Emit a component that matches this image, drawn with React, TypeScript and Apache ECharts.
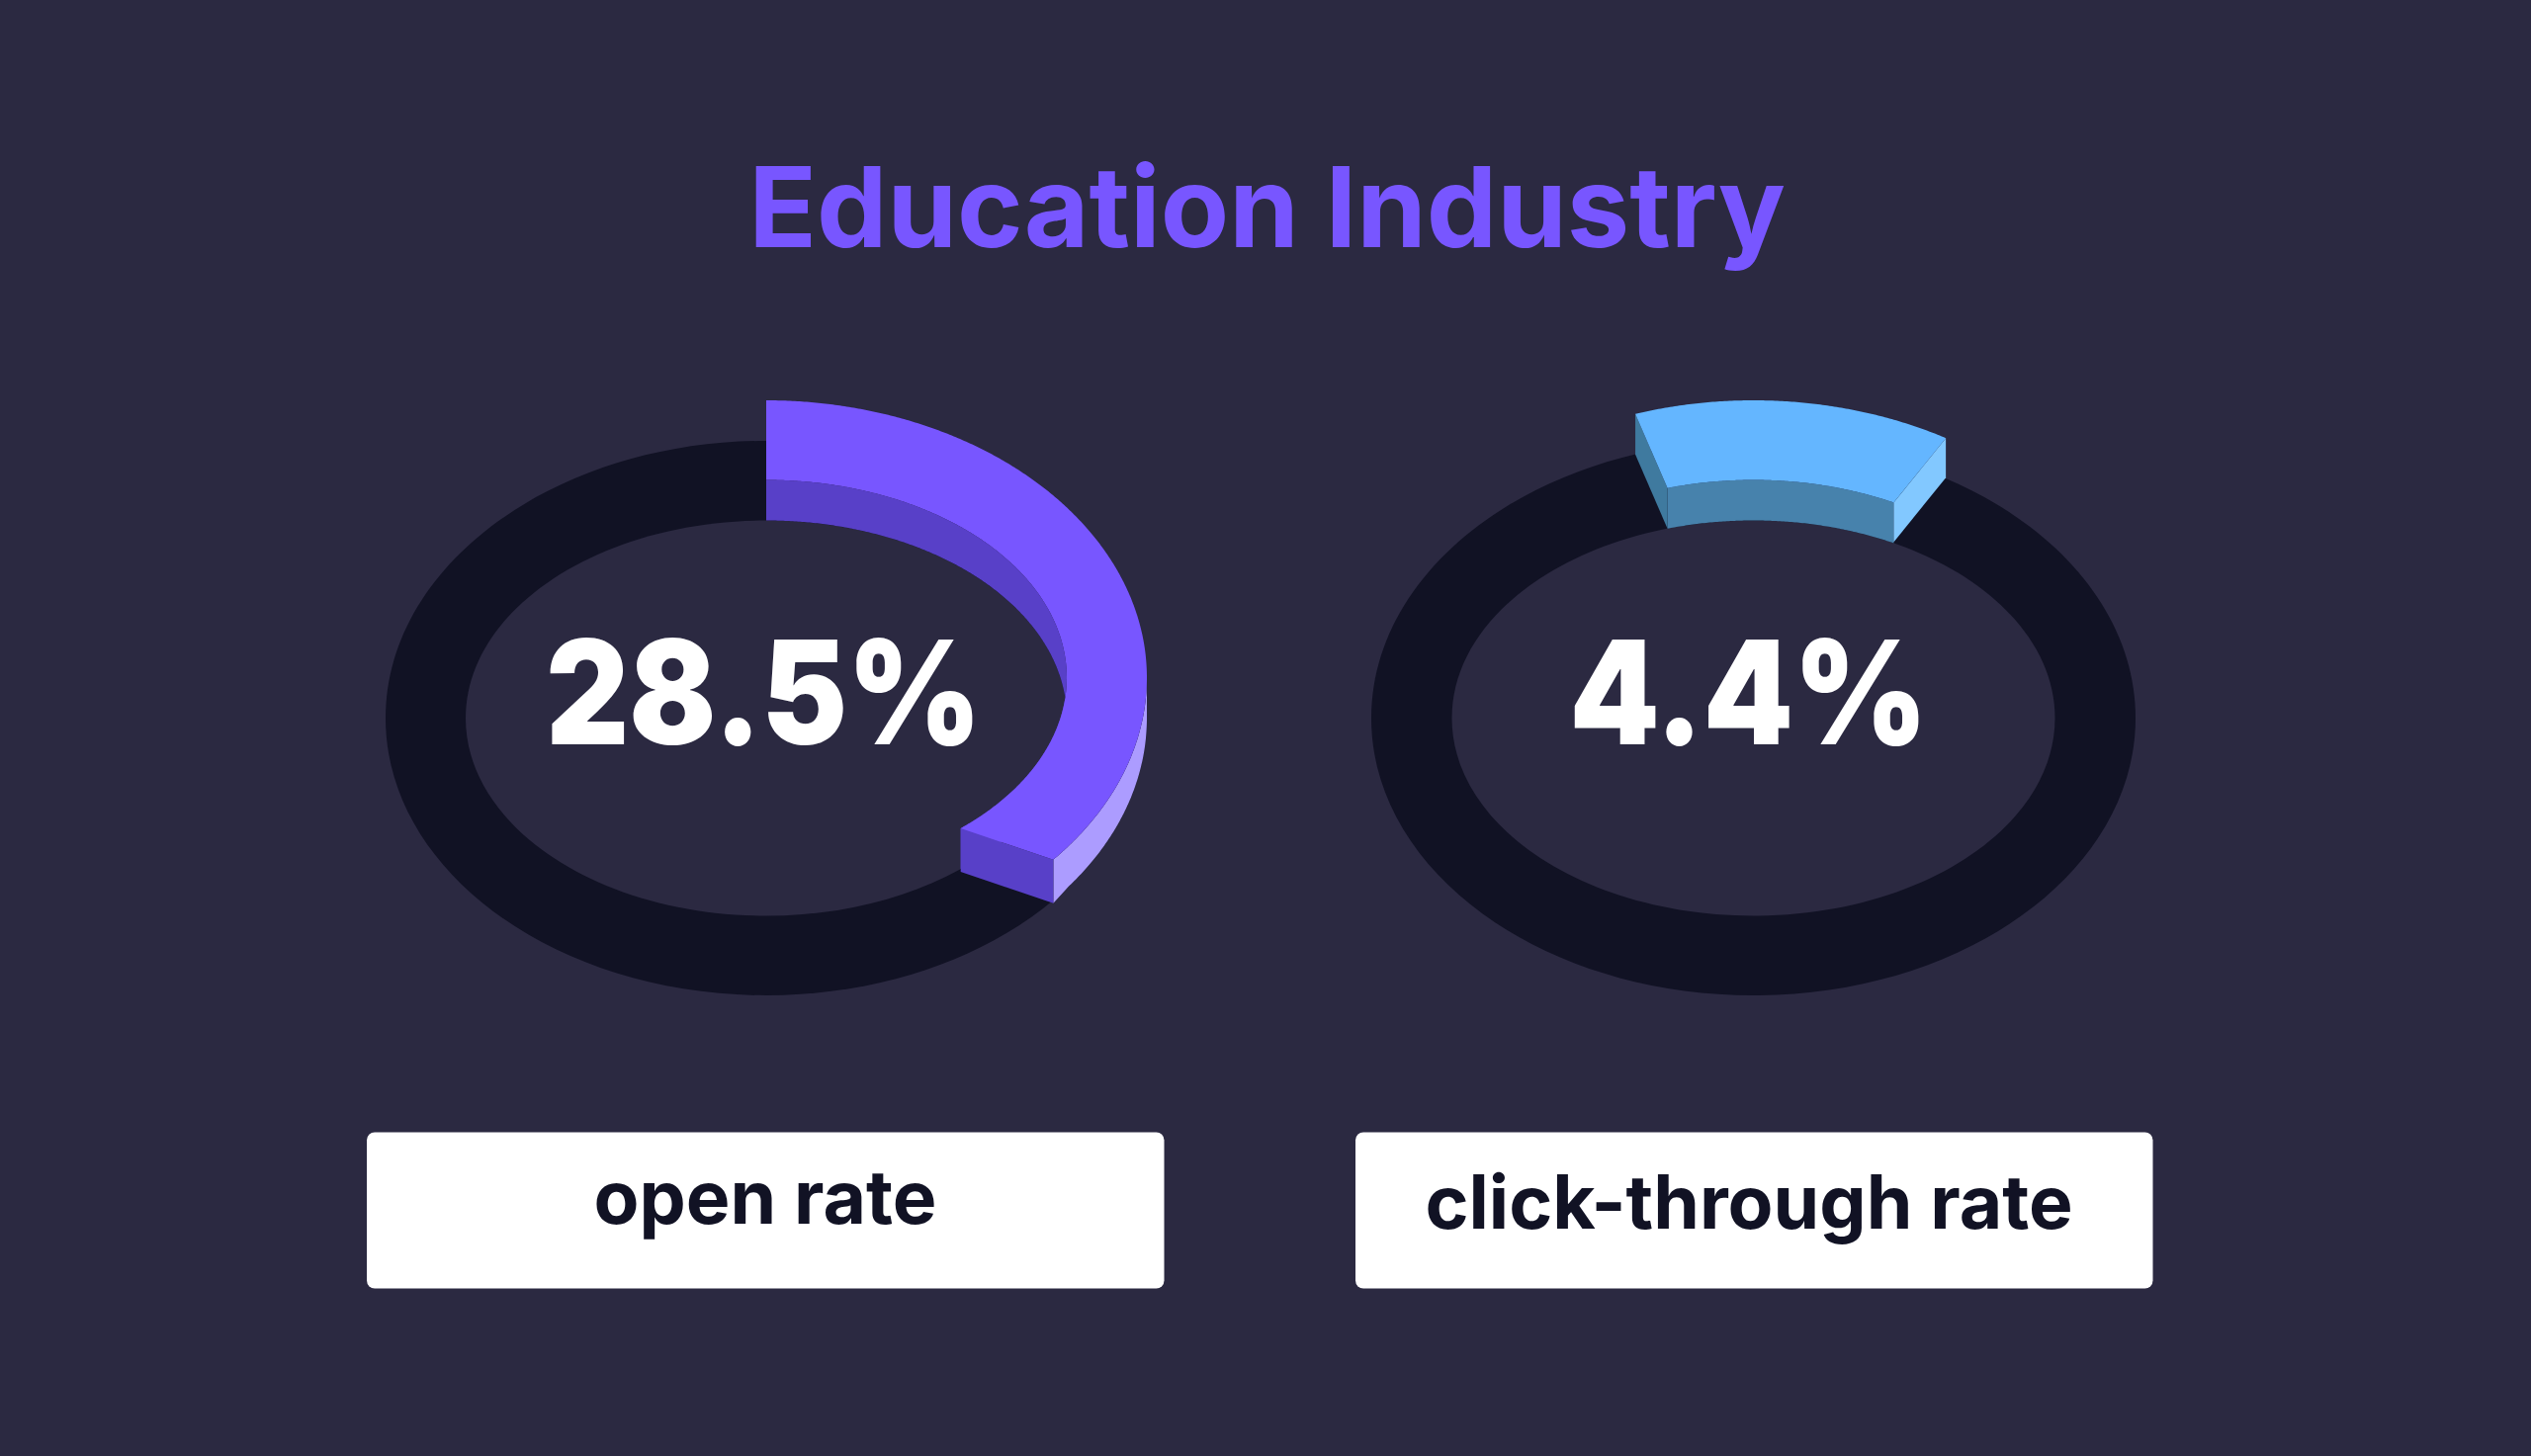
import React, { useEffect, useRef } from "react";
import * as echarts from "echarts";

const chartTitle = "Education Industry";
const metrics = ["open rate", "click-through rate"];
const rateValues = [28.5, 4.4];
// Arc extents, in percent of a full ring clockwise from 12 o'clock.
const arcOuterStart = [0, -5.0];
const arcOuterEnd = [36.4, 8.4];
const arcInnerStart = [0, -4.6];
const arcInnerEnd = [38.8, 7.7];

const topColors = ["#7856FF", "#64B6FF"];
const innerWallColors = ["#5840C8", "#4782AC"];
const outerWallColors = ["#AC9CFF", ""];
const startFaceColors = ["", "#3F7A9F"];
const endFaceColors = ["#5840C8", "#82C8FF"];

const BG = "#2B2941";
const TRACK = "#111224";
const RX_OUT = [385, 386.5];
const RY_OUT = 280.5;
const RX_IN = [304, 305];
const RY_IN = 200;
const LIFT = 41;
const END_DROP = [3, -1];

function pt(cx: number, cy: number, rx: number, ry: number, pct: number) {
  const a = (pct * 3.6 * Math.PI) / 180;
  return [cx + rx * Math.sin(a), cy - ry * Math.cos(a)];
}
function arc(cx: number, cy: number, rx: number, ry: number, a: number, b: number) {
  const n = Math.max(2, Math.ceil(Math.abs(b - a) * 10));
  const out: number[][] = [];
  for (let i = 0; i <= n; i++) out.push(pt(cx, cy, rx, ry, a + ((b - a) * i) / n));
  return out;
}
function poly(points: number[][], fill: string) {
  return { type: "polygon", shape: { points }, style: { fill }, silent: true };
}

function renderRing(params: any, api: any) {
  const i = params.dataIndex;
  const [cx, cy] = api.coord([i, 0.5]);
  const ty = cy - LIFT;
  const ro = RX_OUT[i], ri = RX_IN[i];
  const oS = arcOuterStart[i], oE = arcOuterEnd[i], iS = arcInnerStart[i], iE = arcInnerEnd[i];
  const baseEndOuter = pt(cx, cy + END_DROP[i], ro, RY_OUT, oE);
  const baseEndInner = pt(cx, cy + END_DROP[i], ri, RY_IN, iE);
  const children: any[] = [
    { type: "ellipse", shape: { cx, cy, rx: ro, ry: RY_OUT }, style: { fill: TRACK } },
    { type: "ellipse", shape: { cx, cy, rx: ri, ry: RY_IN }, style: { fill: BG } },
  ];
  if (outerWallColors[i]) {
    const s = Math.max(25, oS);
    children.push(
      poly([...arc(cx, ty, ro, RY_OUT, s, oE), baseEndOuter, ...arc(cx, cy, ro, RY_OUT, oE - 1, s)], outerWallColors[i])
    );
  }
  children.push(poly([...arc(cx, ty, ri, RY_IN, iS, iE), ...arc(cx, cy, ri, RY_IN, iE, iS)], innerWallColors[i]));
  if (startFaceColors[i]) {
    children.push(
      poly(
        [pt(cx, ty, ro, RY_OUT, oS), pt(cx, cy, ro, RY_OUT, oS), pt(cx, cy, ri, RY_IN, iS), pt(cx, ty, ri, RY_IN, iS)],
        startFaceColors[i]
      )
    );
  }
  children.push(
    poly([pt(cx, ty, ro, RY_OUT, oE), baseEndOuter, baseEndInner, pt(cx, ty, ri, RY_IN, iE)], endFaceColors[i])
  );
  children.push(poly([...arc(cx, ty, ro, RY_OUT, oS, oE), ...arc(cx, ty, ri, RY_IN, iE, iS)], topColors[i]));
  return { type: "group", children };
}

export default function App() {
  const ref = useRef<HTMLDivElement>(null);
  useEffect(() => {
    document.body.style.margin = "0";
    document.body.style.background = BG;
    const chart = echarts.init(ref.current!, undefined, { renderer: "svg" });
    const font = "Inter, 'Noto Sans', sans-serif";
    const valueCenter = [772.5, 1768.5];
    const labelCenter = [774, 1769];
    const labelY = [1248, 1253];
    const boxX = [371, 1371];
    chart.setOption({
      animation: false,
      backgroundColor: BG,
      grid: { left: 275.75, width: 1997, top: 0, height: 1453 },
      xAxis: { type: "category", data: metrics, show: false },
      yAxis: { type: "value", min: 0, max: 1, show: false },
      series: [
        {
          type: "custom",
          coordinateSystem: "cartesian2d",
          renderItem: renderRing,
          encode: { x: 0, y: 1 },
          clip: false,
          silent: true,
          data: rateValues.map((v, i) => [i, 0.5, v]),
        },
      ],
      graphic: [
        {
          type: "text",
          z: 10,
          x: 1281.5,
          y: 265,
          style: {
            text: chartTitle,
            fill: "#7856FF",
            font: `700 113.3px ${font}`,
            textAlign: "center",
            textVerticalAlign: "bottom",
          },
        },
        ...rateValues.map((v, i) => ({
          type: "text",
          z: 10,
          x: valueCenter[i],
          y: 700,
          scaleX: 0.89,
          style: {
            text: `${v}%`,
            fill: "#FFFFFF",
            font: `900 146px ${font}`,
            textAlign: "center",
            textVerticalAlign: "middle",
          },
        })),
        ...metrics.map((m, i) => ({
          type: "rect",
          z: 10,
          shape: { x: boxX[i], y: 1145.5, width: 806.5, height: 158, r: 8 },
          style: { fill: "#FFFFFF" },
        })),
        ...metrics.map((m, i) => ({
          type: "text",
          z: 11,
          x: labelCenter[i],
          y: labelY[i],
          style: {
            text: m,
            fill: "#111224",
            font: `700 75px ${font}`,
            textAlign: "center",
            textVerticalAlign: "bottom",
          },
        })),
      ],
    });
    return () => chart.dispose();
  }, []);
  return <div ref={ref} style={{ position: "absolute", left: 0, top: 0, width: 2560, height: 1473 }} />;
}
